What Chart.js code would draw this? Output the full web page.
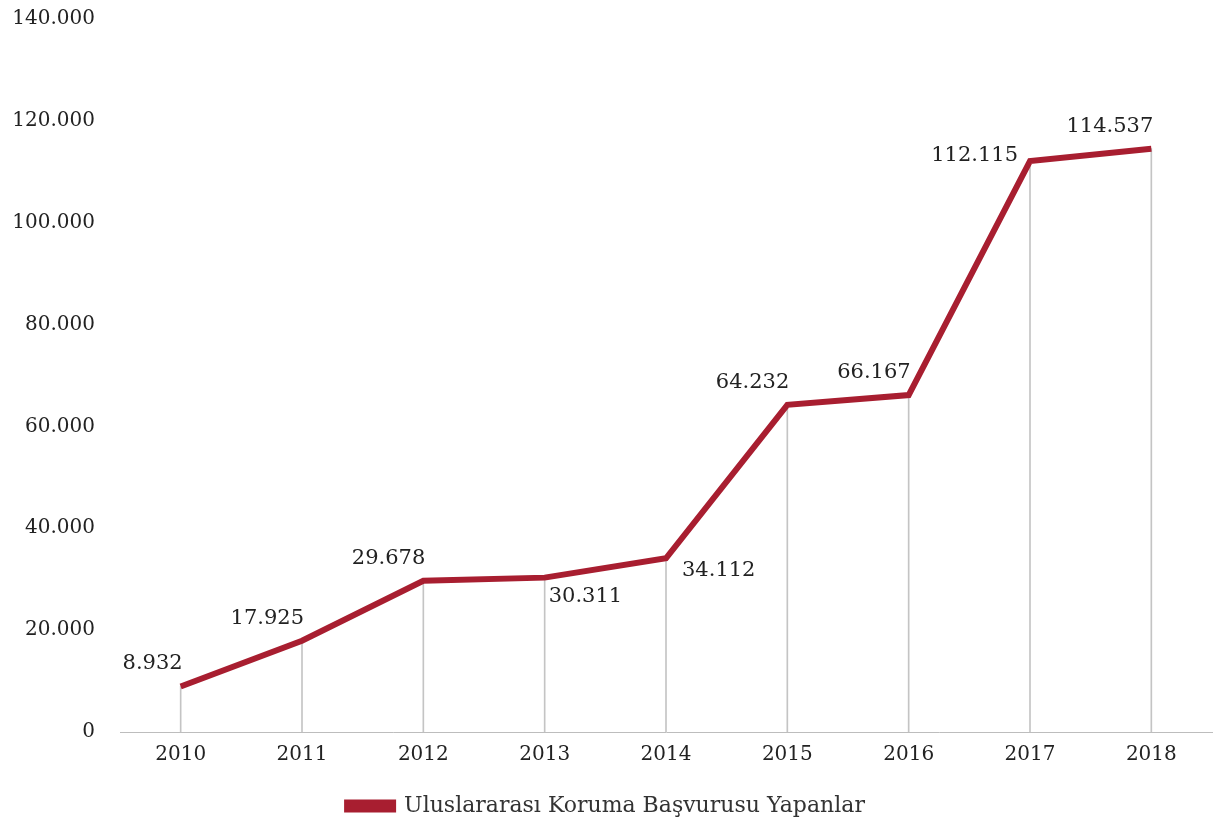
<!DOCTYPE html>
<html>
<head>
<meta charset="utf-8">
<script src="https://cdn.jsdelivr.net/npm/chart.js@4/dist/chart.umd.min.js"></script>
<style>
  html, body { margin: 0; padding: 0; background: #fff; }
  #wrap { width: 1217px; height: 827px; }
</style>
</head>
<body>
<div id="wrap"><canvas id="chart" width="1217" height="827"></canvas></div>
<script>
// veriler
const years = ['2010', '2011', '2012', '2013', '2014', '2015', '2016', '2017', '2018'];
const applicants = [8932, 17925, 29678, 30311, 34112, 64232, 66167, 112115, 114537];
const seriesName = 'Uluslararası Koruma Başvurusu Yapanlar';
const labelPlace = ['nw', 'nw', 'nw', 'se', 'e', 'nw', 'nw', 'w', 'nw'];

const red = '#a81e30';
const serif = '"DejaVu Serif", "Liberation Serif", serif';

function trNum(v) {
    return String(v).replace(/\B(?=(\d{3})+(?!\d))/g, '.');
}

// değer etiketleri
const valueLabels = {
    id: 'valueLabels',
    afterDatasetsDraw(chart) {
        const ctx = chart.ctx;
        const meta = chart.getDatasetMeta(0);
        ctx.save();
        ctx.font = '21px ' + serif;
        ctx.fillStyle = '#222';
        meta.data.forEach((pt, i) => {
            const txt = trNum(applicants[i]);
            const p = labelPlace[i];
            let x = pt.x, y = pt.y;
            if (p === 'nw') { ctx.textAlign = 'right'; ctx.textBaseline = 'bottom'; x += 2; y -= 12; }
            if (p === 'se') { ctx.textAlign = 'left'; ctx.textBaseline = 'top'; x += 4; y += 8; }
            if (p === 'e')  { ctx.textAlign = 'left'; ctx.textBaseline = 'top'; x += 16; y += 2; }
            if (p === 'w')  { ctx.textAlign = 'right'; ctx.textBaseline = 'middle'; x -= 12; y -= 5; }
            ctx.fillText(txt, x, y);
        });
        ctx.restore();
    }
};

new Chart(document.getElementById('chart'), {
    type: 'bar',
    data: {
        labels: years,
        datasets: [{
            type: 'line',
            label: seriesName,
            data: applicants,
            borderColor: red,
            backgroundColor: red,
            borderWidth: 6,
            pointRadius: 0,
            tension: 0,
            order: 0
        }, {
            // dikey çizgiler
            type: 'bar',
            label: 'drop',
            data: applicants,
            backgroundColor: '#c4c4c4',
            barThickness: 1,
            order: 1
        }]
    },
    options: {
        responsive: false,
        animation: false,
        layout: { padding: { top: 0, right: 5, bottom: 0, left: 0 } },
        plugins: {
            tooltip: { enabled: false },
            legend: {
                position: 'bottom',
                labels: {
                    filter: item => item.datasetIndex === 0,
                    boxWidth: 46,
                    boxHeight: 7,
                    padding: 9,
                    color: '#333',
                    font: { family: serif, size: 22 }
                }
            }
        },
        scales: {
            x: {
                afterFit: s => { s.height = 54; },
                grid: { display: false },
                border: { display: true, color: '#bdbdbd', width: 1 },
                ticks: { color: '#222', padding: 3, font: { family: serif, size: 20 } }
            },
            y: {
                min: 0,
                max: 140000,
                afterFit: s => { s.width = 120; },
                grid: { display: false },
                border: { display: false },
                ticks: {
                    stepSize: 20000,
                    padding: 17,
                    color: '#222',
                    font: { family: serif, size: 20, lineHeight: 0.2 },
                    callback: v => trNum(v)
                }
            }
        }
    },
    plugins: [valueLabels]
});
</script>
</body>
</html>
